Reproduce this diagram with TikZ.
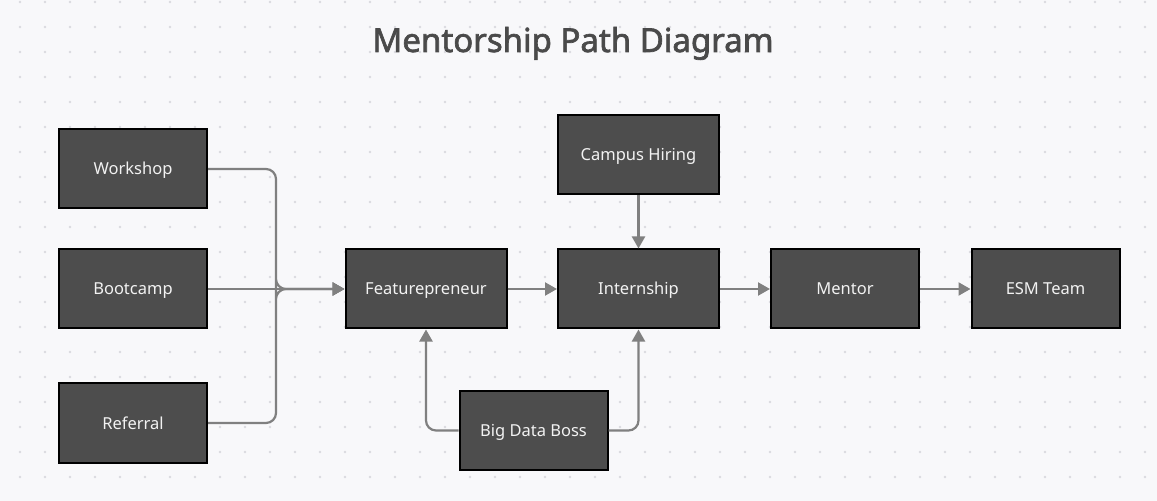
\documentclass[tikz,border=0pt]{standalone}
\usepackage{fontspec}
\setmainfont{Noto Sans}
\newfontfamily\titlefont{Noto Sans}[FakeBold=2]
\usetikzlibrary{arrows.meta}
\definecolor{canvas}{HTML}{F8F8FA}
\definecolor{griddot}{HTML}{DADADF}
\definecolor{boxfill}{HTML}{4D4D4D}
\definecolor{linkgray}{HTML}{808080}
\definecolor{titlegray}{HTML}{4A4A4A}
\tikzset{
  x=1bp, y=-1bp,
  stepbox/.style={draw=black, line width=2bp, fill=boxfill, text=white!95!black,
    minimum width=148bp, minimum height=79bp, inner sep=0pt,
    text height=12bp, text depth=0bp,
    font=\fontsize{16.5bp}{20bp}\selectfont},
  widebox/.style={stepbox, minimum width=161bp},
  link/.style={draw=linkgray, line width=2.2bp, rounded corners=10bp,
    -{Triangle[length=12bp, width=13bp]}},
}
\begin{document}
\begin{tikzpicture}
  % canvas and dot grid
  \fill[canvas] (0,0) rectangle (1157,501);
  \useasboundingbox (0,0) rectangle (1157,501);
  \foreach \gx in {20,45,...,1145}
    \foreach \gy in {2,27,...,500}
      \fill[griddot] (\gx,\gy) circle (1.3bp);

  % title
  \node[text=titlegray, inner sep=0pt, text height=24bp, text depth=0bp,
        font=\titlefont\fontsize{33bp}{40bp}\selectfont] (title) at (573,40) {Mentorship Path Diagram};

  % boxes
  \node[stepbox] (workshop) at (133,169) {Workshop};
  \node[stepbox] (bootcamp) at (133,289) {Bootcamp};
  \node[stepbox] (referral) at (133,423) {Referral};
  \node[widebox] (feat) at (426,289) {Featurepreneur};
  \node[widebox] (campus) at (638.5,155) {Campus Hiring};
  \node[widebox] (intern) at (638.5,289) {Internship};
  \node[stepbox] (mentor) at (845,289) {Mentor};
  \node[stepbox] (esm) at (1045.5,289) {ESM Team};
  \node[stepbox] (bigdata) at (533.5,430.5) {Big Data Boss};

  % connectors
  \draw[link] (workshop.east) -| (276,279) |- (feat.west);
  \draw[link] (bootcamp.east) -- (feat.west);
  \draw[link] (referral.east) -| (276,299) |- (feat.west);
  \draw[link] (bigdata.west) -| (feat.south);
  \draw[link] (bigdata.east) -| (intern.south);
  \draw[link] (campus.south) -- (intern.north);
  \draw[link] (feat.east) -- (intern.west);
  \draw[link] (intern.east) -- (mentor.west);
  \draw[link] (mentor.east) -- (esm.west);
\end{tikzpicture}
\end{document}
